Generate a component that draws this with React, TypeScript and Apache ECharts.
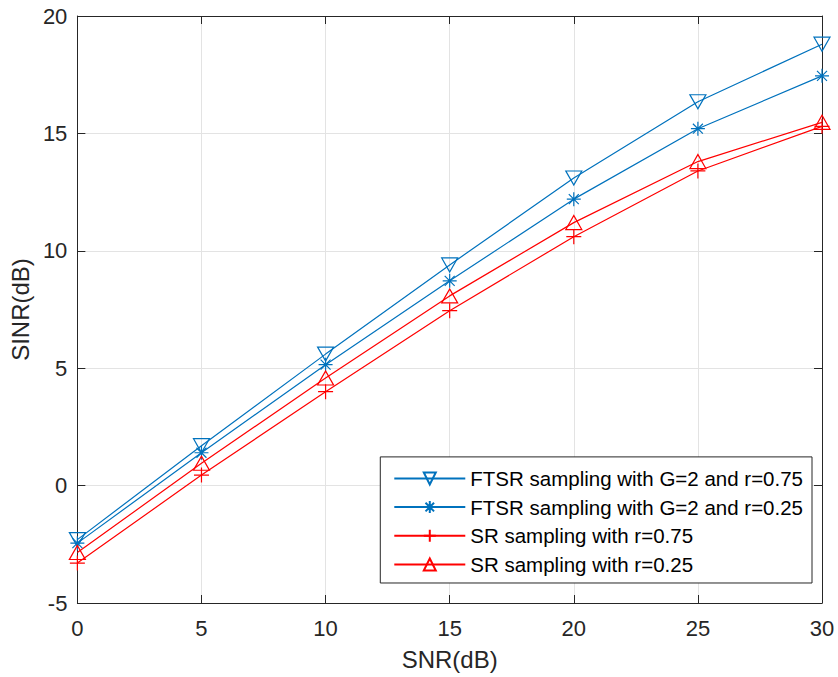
import React, { useEffect, useRef } from "react";
import * as echarts from "echarts";

const snr = [0, 5, 10, 15, 20, 25, 30];
const ftsrG2r075 = [-2.3, 1.7, 5.6, 9.4, 13.1, 16.35, 18.8];
const ftsrG2r025 = [-2.45, 1.4, 5.15, 8.72, 12.2, 15.2, 17.45];
const srR075 = [-3.3, 0.45, 4.0, 7.45, 10.6, 13.4, 15.3];
const srR025 = [-2.85, 0.95, 4.58, 8.08, 11.2, 13.8, 15.47];

const seriesNames = [
  "FTSR sampling with G=2 and r=0.75",
  "FTSR sampling with G=2 and r=0.25",
  "SR sampling with r=0.75",
  "SR sampling with r=0.25",
];

const BLUE = "#0072BD";
const RED = "#FF0000";
const TXT = "#262626";
const FONT = "'Liberation Sans', Arial, sans-serif";

const triDown = "path://M-8,-7L8,-7L0,7Z";
const triUp = "path://M0,-7L8,7L-8,7Z";
const plus = "path://M0,-8L0,8M-8,0L8,0";
const star = "path://M0,-8L0,8M-8,0L8,0M-5.7,-5.7L5.7,5.7M-5.7,5.7L5.7,-5.7";

function mk(name: string, ys: number[], color: string, symbol: string, size: number[] | number) {
  return {
    name,
    type: "line",
    data: snr.map((x, i) => [x, ys[i]]),
    symbol,
    symbolSize: size,
    showSymbol: true,
    lineStyle: { color, width: 1.2 },
    itemStyle: { color: "none", borderColor: color, borderWidth: 1.2 },
    emphasis: { disabled: true },
  };
}

export default function App() {
  const ref = useRef<HTMLDivElement>(null);
  useEffect(() => {
    if (!ref.current) return;
    const chart = echarts.init(ref.current, undefined, { renderer: "svg" });
    const axisLine = { show: true, onZero: false, lineStyle: { color: TXT, width: 1 } };
    const axisTick = { show: true, inside: true, length: 8, lineStyle: { color: TXT } };
    chart.setOption({
      animation: false,
      backgroundColor: "#fff",
      textStyle: { fontFamily: FONT },
      grid: { left: 77, top: 16, right: 16, bottom: 74, containLabel: false },
      xAxis: [
        {
          type: "value",
          min: 0,
          max: 30,
          interval: 5,
          name: "SNR(dB)",
          nameLocation: "middle",
          nameGap: 44,
          nameTextStyle: { color: TXT, fontSize: 24, fontFamily: FONT },
          axisLine,
          axisTick,
          axisLabel: { color: TXT, fontSize: 22, fontFamily: FONT, margin: 14 },
          splitLine: { show: true, lineStyle: { color: "#e3e3e3", width: 1 } },
        },
        {
          type: "value",
          position: "top",
          min: 0,
          max: 30,
          interval: 5,
          axisLine,
          axisTick,
          axisLabel: { show: false },
          splitLine: { show: false },
        },
      ],
      yAxis: [
        {
          type: "value",
          min: -5,
          max: 20,
          interval: 5,
          name: "SINR(dB)",
          nameLocation: "middle",
          nameGap: 44,
          nameTextStyle: { color: TXT, fontSize: 24, fontFamily: FONT },
          axisLine,
          axisTick,
          axisLabel: { color: TXT, fontSize: 22, fontFamily: FONT, margin: 10 },
          splitLine: { show: true, lineStyle: { color: "#e3e3e3", width: 1 } },
        },
        {
          type: "value",
          position: "right",
          min: -5,
          max: 20,
          interval: 5,
          axisLine,
          axisTick,
          axisLabel: { show: false },
          splitLine: { show: false },
        },
      ],
      legend: {
        orient: "vertical",
        right: 26,
        bottom: 94,
        data: seriesNames,
        backgroundColor: "#fff",
        borderColor: TXT,
        borderWidth: 1,
        borderRadius: 0,
        padding: [11, 9, 8, 13],
        itemGap: 7.7,
        itemWidth: 71,
        itemHeight: 15,
        textStyle: { color: "#000", fontSize: 20.5, fontFamily: FONT, lineHeight: 20 },
        selectedMode: false,
      },
      series: [
        mk(seriesNames[0], ftsrG2r075, BLUE, triDown, [16, 14]),
        mk(seriesNames[1], ftsrG2r025, BLUE, star, 14),
        mk(seriesNames[2], srR075, RED, plus, 15),
        mk(seriesNames[3], srR025, RED, triUp, [16, 14]),
      ],
    });
    return () => chart.dispose();
  }, []);
  return (
    <div
      ref={ref}
      style={{ position: "fixed", left: 0, top: 0, width: 838, height: 677 }}
    />
  );
}
